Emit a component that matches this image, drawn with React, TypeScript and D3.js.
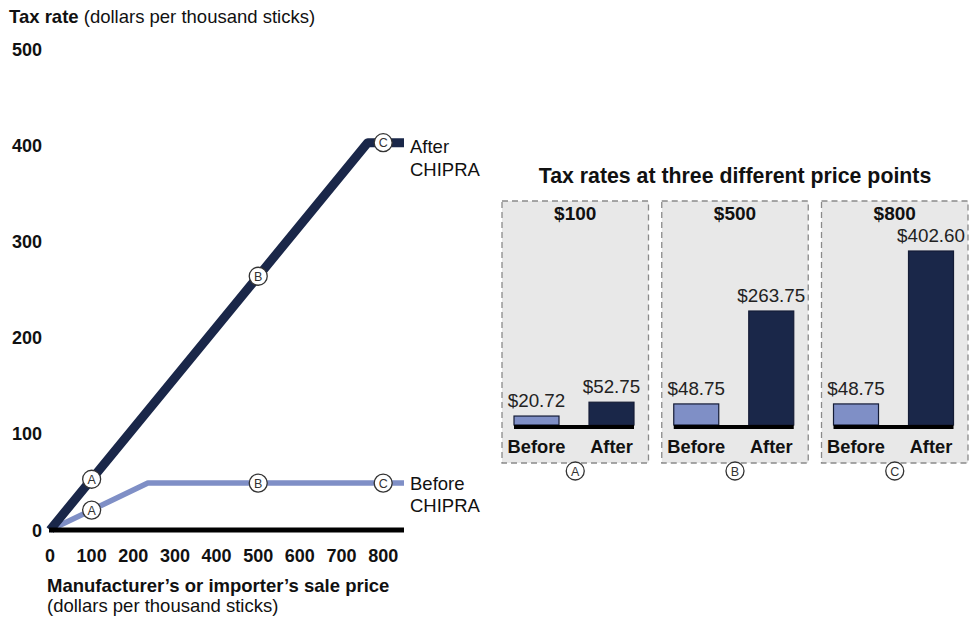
import React from "react";
import * as d3 from "d3";

// price points (dollars per thousand sticks) and their tax rates
const pricePoints = [100, 500, 800];
const pointLetters = ["A", "B", "C"];
const beforeRates = [20.72, 48.75, 48.75];
const afterRates = [52.75, 263.75, 402.6];
const panelTitles = ["$100", "$500", "$800"];
const panelLabels = ["$20.72", "$52.75", "$48.75", "$263.75", "$48.75", "$402.60"];

// the two schedules, read at their break points
const afterLine: [number, number][] = [[0, 0], [763, 402.6], [850, 402.6]];
const beforeLine: [number, number][] = [[0, 0], [235, 48.75], [850, 48.75]];

const yTicks = [0, 100, 200, 300, 400, 500];
const xTicks = [0, 100, 200, 300, 400, 500, 600, 700, 800];

const DARK = "#1a2749";
const LIGHT = "#7f8fc6";
const FONT = "'Liberation Sans', Arial, Helvetica, sans-serif";

const Marker = ({ cx, cy, letter }) => (
  <g>
    <circle cx={cx} cy={cy} r={9} fill="#fff" stroke="#333" strokeWidth={1.3} />
    <text x={cx} y={cy + 4.5} textAnchor="middle" fontSize={12.5} fill="#333">{letter}</text>
  </g>
);

export default function App() {
  const x = d3.scaleLinear().domain([0, 850]).range([50, 404]);
  const y = d3.scaleLinear().domain([0, 500]).range([530, 49]);
  const line = d3.line<[number, number]>().x(d => x(d[0])).y(d => y(d[1]));

  // panels
  const panelX = d3.scaleBand<number>().domain([0, 1, 2]).range([502, 968]).paddingInner(0.083);
  const barY = d3.scaleLinear().domain([0, 402.6]).range([425, 251]);
  const barX = d3.scaleBand().domain(["Before", "After"]).range([12, 132]).paddingInner(0.4);

  return (
    <svg width={975} height={620} style={{ position: "absolute", left: 0, top: 0, background: "#fff" }} fontFamily={FONT}>
      {/* y axis title */}
      <text x={9} y={23} fontSize={18.5} fill="#111">
        <tspan fontWeight="bold">Tax rate</tspan> (dollars per thousand sticks)
      </text>
      {yTicks.map(t => (
        <text key={t} x={42} y={y(t) + 6.5} textAnchor="end" fontSize={18} fontWeight="bold" fill="#111">{t}</text>
      ))}
      {xTicks.map(t => (
        <text key={t} x={x(t)} y={562} textAnchor="middle" fontSize={18} fontWeight="bold" fill="#111">{t}</text>
      ))}
      <text x={47} y={592} fontSize={18.5} fontWeight="bold" fill="#111">Manufacturer’s or importer’s sale price</text>
      <text x={47} y={612} fontSize={18.5} fill="#111">(dollars per thousand sticks)</text>

      <path d={line(beforeLine)} fill="none" stroke={LIGHT} strokeWidth={5.5} strokeLinejoin="round" />
      <path d={line(afterLine)} fill="none" stroke={DARK} strokeWidth={9} strokeLinejoin="round" />
      <line x1={x(0) - 1} x2={x(850)} y1={y(0)} y2={y(0)} stroke="#000" strokeWidth={5} />

      {pricePoints.map((p, i) => (
        <g key={p}>
          <Marker cx={x(p)} cy={y(afterRates[i])} letter={pointLetters[i]} />
          <Marker cx={x(p)} cy={y(beforeRates[i])} letter={pointLetters[i]} />
        </g>
      ))}

      <text x={410} y={153} fontSize={18.5} fill="#111">After</text>
      <text x={410} y={176} fontSize={18.5} fill="#111">CHIPRA</text>
      <text x={410} y={490} fontSize={18.5} fill="#111">Before</text>
      <text x={410} y={512} fontSize={18.5} fill="#111">CHIPRA</text>

      {/* small multiples */}
      <text x={735} y={183} textAnchor="middle" fontSize={21.3} fontWeight="bold" fill="#111">Tax rates at three different price points</text>
      {pricePoints.map((p, i) => {
        const px = panelX(i)!;
        const w = panelX.bandwidth();
        const vals = [beforeRates[i], afterRates[i]];
        return (
          <g key={p} transform={`translate(${px},0)`}>
            <rect x={0} y={201} width={w} height={262} fill="#e8e8e8" stroke="#8a8a8a" strokeWidth={1.3} strokeDasharray="6,4" />
            <text x={w / 2} y={220} textAnchor="middle" fontSize={19} fontWeight="bold" fill="#111">{panelTitles[i]}</text>
            {barX.domain().map((k, j) => (
              <g key={k}>
                <rect x={barX(k)} y={barY(vals[j])} width={barX.bandwidth()} height={barY(0) - barY(vals[j])}
                  fill={j === 0 ? LIGHT : DARK} stroke="#141c36" strokeWidth={1.2} />
                <text x={barX(k)! + barX.bandwidth() / 2} y={barY(vals[j]) - 9} textAnchor="middle" fontSize={18.8} fill="#222">{panelLabels[i * 2 + j]}</text>
                <text x={barX(k)! + barX.bandwidth() / 2} y={453} textAnchor="middle" fontSize={18.3} fontWeight="bold" fill="#111">{k}</text>
              </g>
            ))}
            <rect x={barX("Before")} y={425} width={barX("After")! + barX.bandwidth() - barX("Before")!} height={4} fill="#000" />
            <Marker cx={w / 2} cy={471} letter={pointLetters[i]} />
          </g>
        );
      })}
    </svg>
  );
}
